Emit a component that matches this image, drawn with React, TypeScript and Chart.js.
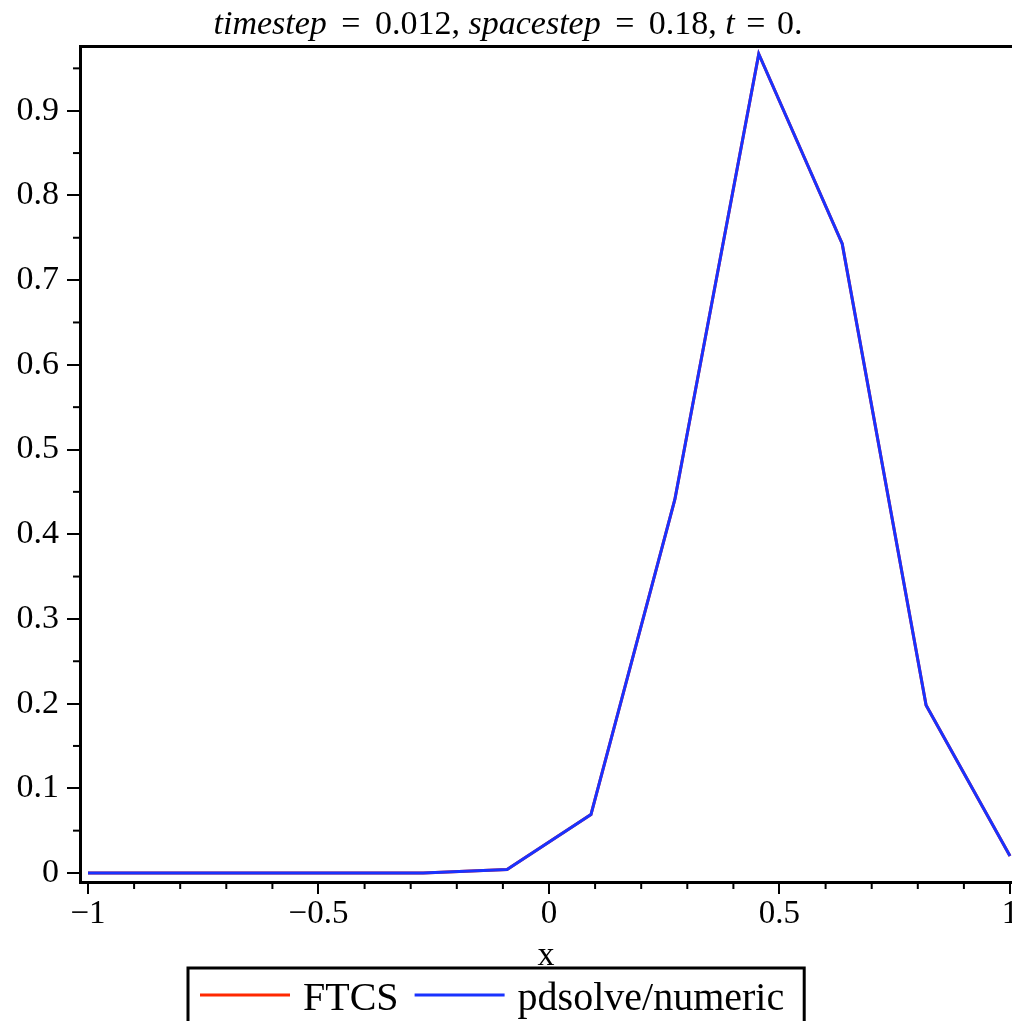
import React, { useEffect, useRef } from 'react';
import { Chart, registerables } from 'chart.js';

Chart.register(...registerables);

const xValues = [-1, -0.818, -0.636, -0.455, -0.273, -0.091, 0.091, 0.273, 0.455, 0.636, 0.818, 1];
const ftcsValues = [0, 0, 0, 0, 0.0001, 0.004, 0.069, 0.441, 0.967, 0.743, 0.198, 0.02];
const pdsolveValues = [0, 0, 0, 0, 0.0001, 0.004, 0.069, 0.441, 0.967, 0.743, 0.198, 0.02];
const xTickValues = [-1, -0.5, 0, 0.5, 1];
const yTickValues = [0, 0.1, 0.2, 0.3, 0.4, 0.5, 0.6, 0.7, 0.8, 0.9];
const xMinorStep = 0.1;
const yMinorStep = 0.05;
const seriesLabels = ['FTCS', 'pdsolve/numeric'];
const seriesColors = ['rgb(255,40,0)', 'rgb(25,50,255)'];
const titleParts = [
  { text: 'timestep', italic: true, pad: 0 },
  { text: ' = ', italic: false, pad: 6 },
  { text: '0.012, ', italic: false, pad: 0 },
  { text: 'spacestep', italic: true, pad: 0 },
  { text: ' = ', italic: false, pad: 6 },
  { text: '0.18, ', italic: false, pad: 0 },
  { text: 't', italic: true, pad: 0 },
  { text: ' = ', italic: false, pad: 3 },
  { text: '0.', italic: false, pad: 0 },
];
const axisTitle = 'x';

const SERIF = "'Liberation Serif', 'Times New Roman', serif";

const fmt = (v: number) => {
  if (v === 0) return '0';
  const s = Math.abs(v).toString();
  return v < 0 ? '\u2212' + s : s;
};

const decorPlugin = {
  id: 'decor',
  afterDraw(chart: any) {
    const ctx = chart.ctx as CanvasRenderingContext2D;
    const xs = chart.scales.x;
    const ys = chart.scales.y;
    ctx.save();
    // minor ticks
    ctx.strokeStyle = '#000';
    ctx.lineWidth = 2;
    const area = chart.chartArea;
    for (let i = -10; i <= 10; i++) {
      const v = i * xMinorStep;
      if (i % 5 === 0) continue;
      const px = xs.getPixelForValue(v);
      ctx.beginPath();
      ctx.moveTo(px, area.bottom);
      ctx.lineTo(px, area.bottom + 7);
      ctx.stroke();
    }
    for (let i = 0; i <= 19; i++) {
      if (i % 2 === 0) continue;
      const v = i * yMinorStep;
      const py = ys.getPixelForValue(v);
      ctx.beginPath();
      ctx.moveTo(area.left, py);
      ctx.lineTo(area.left - 7, py);
      ctx.stroke();
    }
    // title
    ctx.fillStyle = '#000';
    ctx.textBaseline = 'alphabetic';
    const tSize = 34;
    let total = 0;
    const widths = titleParts.map((p: any) => {
      ctx.font = `${p.italic ? 'italic ' : ''}${tSize}px ${SERIF}`;
      const w = ctx.measureText(p.text).width + p.pad * 2;
      total += w;
      return w;
    });
    let x = 508 - total / 2;
    titleParts.forEach((p: any, i) => {
      ctx.font = `${p.italic ? 'italic ' : ''}${tSize}px ${SERIF}`;
      ctx.textAlign = 'left';
      ctx.fillText(p.text, x + p.pad, 34);
      x += widths[i];
    });
    // legend
    const lSize = 40;
    ctx.font = `${lSize}px ${SERIF}`;
    let lx = 200;
    const ly = 995;
    const items = chart.data.datasets.slice().sort((a: any, b: any) => a.legendIndex - b.legendIndex);
    items.forEach((ds: any, i: number) => {
      ctx.strokeStyle = ds.borderColor;
      ctx.lineWidth = 3;
      ctx.beginPath();
      ctx.moveTo(lx, ly);
      ctx.lineTo(lx + 90, ly);
      ctx.stroke();
      lx += 103;
      ctx.fillStyle = '#000';
      ctx.fillText(ds.label, lx, 1010);
      lx += ctx.measureText(ds.label).width + (i < items.length - 1 ? 16 : 20);
    });
    ctx.strokeStyle = '#000';
    ctx.lineWidth = 3;
    ctx.strokeRect(188, 968, lx - 188, 80);
    ctx.restore();
  },
};

const noPad = (s: any) => {
  s.paddingLeft = 0;
  s.paddingRight = 0;
};

export default function App() {
  const ref = useRef<HTMLCanvasElement>(null);
  useEffect(() => {
    const canvas = ref.current;
    if (!canvas) return;
    const chart = new Chart(canvas, {
      type: 'line',
      data: {
        datasets: [
          {
            label: seriesLabels[0],
            data: xValues.map((x, i) => ({ x, y: ftcsValues[i] })),
            borderColor: seriesColors[0],
            backgroundColor: seriesColors[0],
            borderWidth: 3,
            pointRadius: 0,
            tension: 0,
            order: 1,
            legendIndex: 0,
          } as any,
          {
            label: seriesLabels[1],
            data: xValues.map((x, i) => ({ x, y: pdsolveValues[i] })),
            borderColor: seriesColors[1],
            backgroundColor: seriesColors[1],
            borderWidth: 3,
            pointRadius: 0,
            tension: 0,
            order: 0,
            legendIndex: 1,
          } as any,
        ],
      },
      options: {
        animation: false,
        responsive: true,
        maintainAspectRatio: false,
        layout: { padding: { top: 46, left: 0, right: 0, bottom: 0 } },
        plugins: { legend: { display: false }, title: { display: false }, tooltip: { enabled: false } },
        scales: {
          x: {
            type: 'linear',
            position: 'bottom',
            min: -1.01735,
            max: 1.00434,
            afterBuildTicks: (s: any) => {
              s.ticks = xTickValues.map((v) => ({ value: v }));
            },
            afterFit: (s: any) => {
              s.height = 139;
              noPad(s);
            },
            grid: { display: true, drawOnChartArea: false, drawTicks: true, tickLength: 12, tickWidth: 2, tickColor: '#000', color: '#000', lineWidth: 2 },
            border: { display: true, color: '#000', width: 3 },
            ticks: {
              color: '#000',
              font: { family: SERIF, size: 33 },
              padding: 1,
              maxRotation: 0,
              autoSkip: false,
              callback: (v: any) => fmt(Number(v)),
            },
            title: {
              display: true,
              text: axisTitle,
              color: '#000',
              font: { family: SERIF, size: 34 },
              padding: { top: 0, bottom: 45 },
            },
          },
          xTop: {
            type: 'linear',
            position: 'top',
            display: true,
            afterFit: (s: any) => {
              s.height = 0;
              noPad(s);
            },
            grid: { display: false, drawTicks: false },
            border: { display: true, color: '#000', width: 3 },
            ticks: { display: false },
          },
          y: {
            type: 'linear',
            position: 'left',
            min: -0.01063,
            max: 0.9764,
            afterBuildTicks: (s: any) => {
              s.ticks = yTickValues.map((v) => ({ value: v }));
            },
            afterFit: (s: any) => {
              s.width = 80;
            },
            grid: { display: true, drawOnChartArea: false, drawTicks: true, tickLength: 13, tickWidth: 2, tickColor: '#000', color: '#000', lineWidth: 2 },
            border: { display: true, color: '#000', width: 3 },
            ticks: {
              color: '#000',
              font: { family: SERIF, size: 34 },
              padding: 8,
              autoSkip: false,
              callback: (v: any) => (Number(v) === 0 ? '0' : Number(v).toFixed(1)),
            },
          },
        },
      },
      plugins: [decorPlugin],
    });
    return () => chart.destroy();
  }, []);
  return (
    <div style={{ position: 'absolute', left: 0, top: 0, width: 1012, height: 1021, background: '#fff', overflow: 'hidden' }}>
      <canvas ref={ref} />
    </div>
  );
}
